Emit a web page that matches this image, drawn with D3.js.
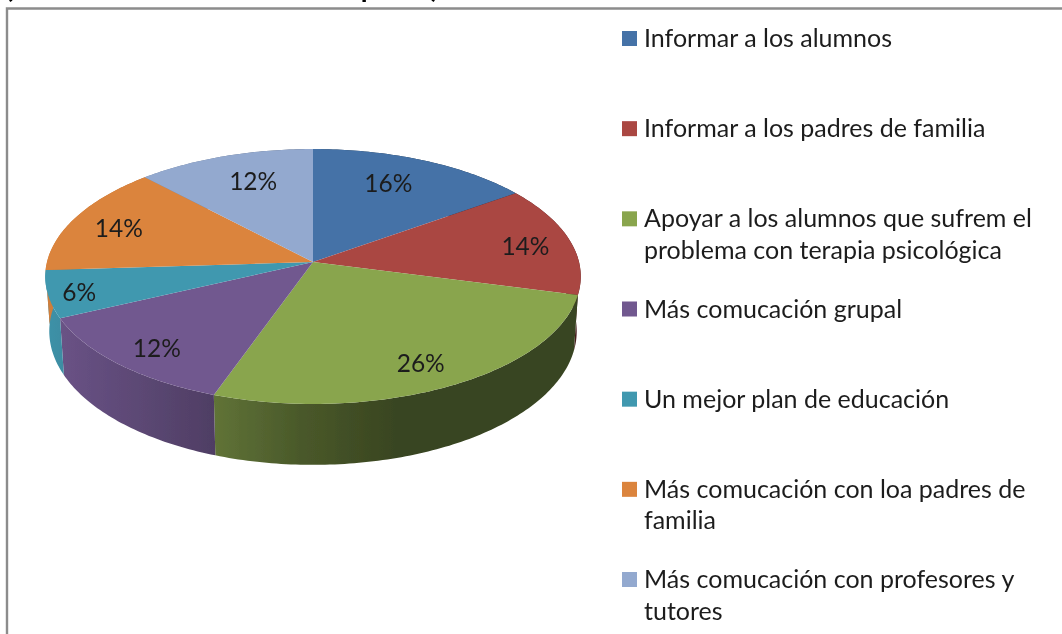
<!DOCTYPE html>
<html><head><meta charset="utf-8">
<script src="https://cdn.jsdelivr.net/npm/d3@7/dist/d3.min.js"></script>
<style>html,body{margin:0;padding:0;background:#fff;overflow:hidden}svg{display:block}text{font-family:Lato,"Open Sans",sans-serif;fill:#1d1d1d}</style>
</head><body><svg id="c" width="1062" height="634"></svg>
<script>
const categories = ["Informar a los alumnos","Informar a los padres de familia","Apoyar a los alumnos que sufrem el\nproblema con terapia psicológica","Más comucación grupal","Un mejor plan de educación","Más comucación con loa padres de\nfamilia","Más comucación con profesores y\ntutores"];
// Printed percentages
const printedLabels = ["16%","14%","26%","12%","6%","14%","12%"];
const sliceShares = [15.1,14,26.3,12.6,6,14,12];
const colors = ["#4572a7","#aa4643","#89a54e","#71588f","#4198af","#db843d","#93a9cf"];
const titleFragments = ["(","p",")"];

const W=1062,H=634,cx=313,cy=262,R=266,k=125.8,t=.1137,depth=54;
const svg=d3.select("#c");
const defs=svg.append("defs");
defs.append("filter").attr("id","soft").attr("x","-5%").attr("y","-5%").attr("width","110%").attr("height","110%")
  .append("feGaussianBlur").attr("stdDeviation",.45);
const root=svg.append("g").attr("filter","url(#soft)");

// perspective projection of the tilted disc
const top3=(a,r=1)=>{const X=r*Math.sin(a),Z=r*Math.cos(a),d=1+t*Z;return [cx+R*X/d,cy-k*Z/d];};
const low3=a=>{const Z=Math.cos(a),p=top3(a);return [cx+(p[0]-cx)*.985,p[1]+depth/(1+t*Z)];};

// frame
root.append("path").attr("d",d3.line()([[7,H],[7,8.5],[W,8.5]])).attr("fill","none").attr("stroke","#8c8c8c").attr("stroke-width",2.4);

// clipped title line above the frame
const titleX=d3.scaleOrdinal().domain(titleFragments).range([6,361,431]);
root.selectAll("text.t").data(titleFragments).join("text").attr("class","t")
  .attr("x",d=>titleX(d)).attr("y",-2).attr("font-size",25).attr("font-weight",900).style("fill","#000").text(d=>d);

const pieGen=d3.pie().sort(null).value(d=>d);
const arcs=pieGen(sliceShares);
const line=d3.line();
const samples=d=>{const n=Math.max(4,Math.ceil((d.endAngle-d.startAngle)*60));return d3.range(n+1).map(i=>d.startAngle+(d.endAngle-d.startAngle)*i/n);};

// side wall shade across the x axis
const shadeX=[45,62,214,300,400,581], shadeF=[.96,.93,.7,.54,.41,.41];
const shade=d3.scaleLinear().domain(shadeX).range(shadeF);
arcs.forEach((d,i)=>{
  const g=defs.append("linearGradient").attr("id","side"+i).attr("gradientUnits","userSpaceOnUse").attr("x1",45).attr("x2",581).attr("y1",0).attr("y2",0);
  shadeX.forEach(x=>{const c=d3.rgb(colors[i]),f=shade(x);
    g.append("stop").attr("offset",(x-45)/536).attr("stop-color",d3.rgb(c.r*f,c.g*f,c.b*f).formatHex());});
});
const sideG=root.append("g");
sideG.selectAll("path").data(arcs).join("path")
  .attr("d",d=>{const s=samples(d);return line(s.map(a=>top3(a)).concat(s.slice().reverse().map(low3)))+"Z";})
  .attr("fill",(d,i)=>`url(#side${i})`);
const topG=root.append("g");
topG.selectAll("path").data(arcs).join("path")
  .attr("d",d=>line([[cx,cy]].concat(samples(d).map(a=>top3(a))))+"Z")
  .attr("fill",(d,i)=>colors[i]);

// data labels
const labelReach=[.68,.81,.83,.81,.87,.79,.7];
const labelDx=[-2,4,-5,-1,-4,-5,4], labelDy=[-7,3,1,6,3,2,-4];
root.append("g").selectAll("text").data(arcs).join("text")
  .attr("text-anchor","middle").attr("font-size",24.5)
  .attr("x",(d,i)=>top3((d.startAngle+d.endAngle)/2,labelReach[i])[0]+labelDx[i])
  .attr("y",(d,i)=>top3((d.startAngle+d.endAngle)/2,labelReach[i])[1]+8+labelDy[i])
  .text((d,i)=>printedLabels[i]);

// legend
const rowY=d3.scalePoint().domain(categories).range([38.5,579.5]);
const legend=root.append("g").selectAll("g").data(categories).join("g").attr("transform",d=>`translate(622,${rowY(d)})`);
legend.append("rect").attr("y",-7.5).attr("width",15).attr("height",15).attr("fill",(d,i)=>colors[i]);
legend.each(function(d){
  d3.select(this).selectAll("text").data(d.split("\n")).join("text")
    .attr("x",22).attr("y",(l,j)=>8.5+j*31.5).attr("font-size",25).text(l=>l);
});
</script></body></html>
